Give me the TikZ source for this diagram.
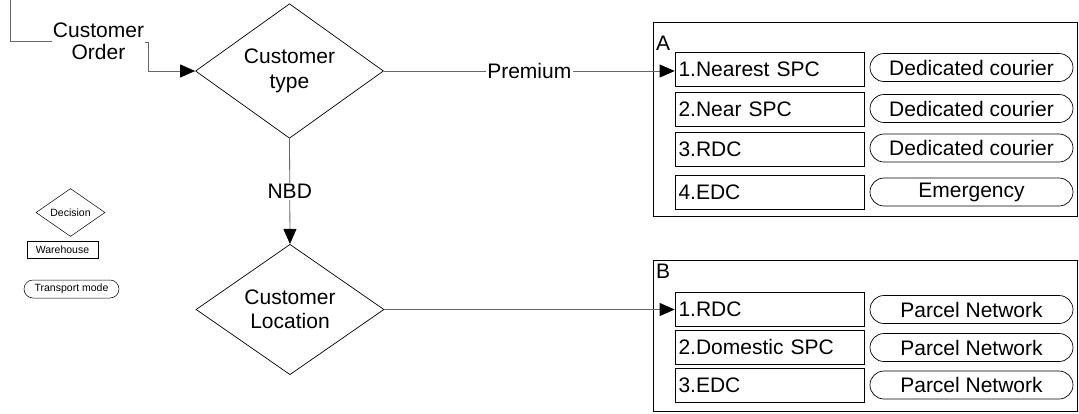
\documentclass[tikz,border=0pt]{standalone}
\usepackage{fontspec}
\setmainfont{Liberation Sans}
\usetikzlibrary{shapes.geometric,arrows.meta}
\begin{document}
\begin{tikzpicture}[x=1pt,y=-1pt,
  big/.style={font=\fontsize{21}{24.5}\selectfont},
  small/.style={font=\fontsize{10.5}{12}\selectfont},
  dec/.style={draw=black,line width=0.7pt,shape=diamond,inner sep=0pt,align=center},
  whbox/.style={draw=black,line width=0.7pt,text width=182pt,inner xsep=3.5pt,inner ysep=0pt,minimum height=34pt,align=left,big},
  pill/.style={draw=black,line width=0.7pt,rounded corners=14pt,minimum width=203pt,minimum height=28pt,inner sep=0pt,big},
  frame/.style={draw=black,line width=0.7pt},
  conn/.style={draw=black!60,line width=0.8pt},
  arr/.style={conn,-{Triangle[length=15pt,width=13pt,color=black]}},
  lbl/.style={fill=white,inner sep=1.5pt,big}
]
\useasboundingbox[fill=white] (0,0) rectangle (1079,413);

% top-left annotation
\coordinate (t0) at (10,0);
\coordinate (t1) at (52,41);
\draw[conn] (t0) -- (10,41) -- (t1);
\node[big,align=center,font=\fontsize{21}{22}\selectfont] (order) at (98.5,41) {Customer\\Order};
\coordinate (b0) at (145,42);

% decisions
\node[dec,big,minimum width=188pt,minimum height=113pt] (ct) at (289.5,71) {Customer\\type};
\node[dec,big,minimum width=188pt,minimum height=113pt] (cl) at (290,309.5) {Customer\\Location};

% frame A
\draw[frame] (653,22) rectangle (1077,216);
\node[big,anchor=base west,inner sep=0pt] (labA) at (656,50) {A};
\node[whbox] (A1) at (769.5,69) {1.Nearest SPC};
\node[whbox] (A2) at (769.5,109.5) {2.Near SPC};
\node[whbox] (A3) at (769.5,149.5) {3.RDC};
\node[whbox] (A4) at (769.5,192) {4.EDC};
\node[pill] (P1) at (971.5,67.5) {Dedicated courier};
\node[pill] (P2) at (971.5,108.5) {Dedicated courier};
\node[pill] (P3) at (971.5,148) {Dedicated courier};
\node[pill] (P4) at (971.5,192) {Emergency};

% frame B
\draw[frame] (653,260) rectangle (1077,411);
\node[big,anchor=base west,inner sep=0pt] (labB) at (656,278) {B};
\node[whbox] (B1) at (769.5,309.5) {1.RDC};
\node[whbox] (B2) at (769.5,347) {2.Domestic SPC};
\node[whbox] (B3) at (769.5,385) {3.EDC};
\node[pill] (Q1) at (971.5,309.5) {Parcel Network};
\node[pill] (Q2) at (971.5,347.5) {Parcel Network};
\node[pill] (Q3) at (971.5,385) {Parcel Network};

% connectors
\draw[arr] (b0) -- (148,42) -- (148,71) -- (ct.west);
\draw[arr] (ct.east) -- node[lbl] (prem) {Premium} (ct.east -| A1.west);
\draw[arr] (ct.south) -- node[lbl,pos=0.5] (nbd) {NBD} (cl.north);
\draw[arr] (cl.east) -- (cl.east -| B1.west);

% legend
\node[dec,small,minimum width=69pt,minimum height=41pt,line width=0.5pt] (lgD) at (70.5,212.5) {Decision};
\node[draw=black,line width=0.5pt,small,minimum width=71pt,minimum height=17pt,inner sep=0pt] (lgW) at (62.5,250) {Warehouse};
\node[draw=black,line width=0.5pt,small,rounded corners=9pt,minimum width=95pt,minimum height=18pt,inner sep=0pt] (lgT) at (71.5,289) {Transport mode};
\end{tikzpicture}
\end{document}
